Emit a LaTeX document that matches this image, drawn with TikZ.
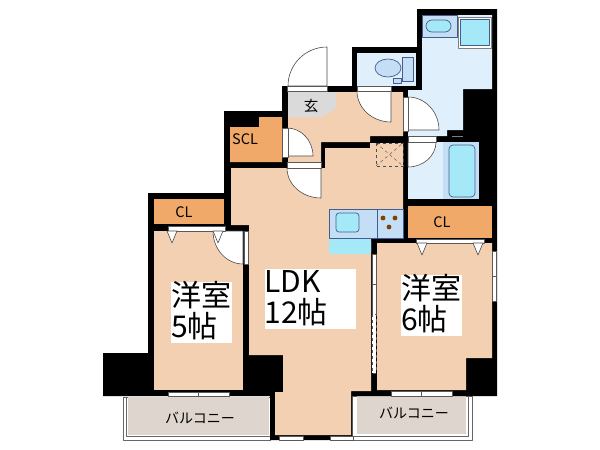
\documentclass[tikz,border=0pt]{standalone}
\usepackage{fontspec}
\setmainfont{Noto Sans CJK JP}
\tikzset{
	wall/.style={fill=black},
	room/.style={fill=#1,draw=none},
	frame/.style={fill=white,draw=gray!70!black,line width=0.5pt},
	doorleaf/.style={fill=white,draw=black!70,line width=0.6pt},
	fixture/.style={fill=#1,draw=black!55!cyan!60!blue,line width=0.7pt},
	roomtext/.style={inner sep=0pt,align=left,anchor=center,font=\fontsize{30}{31}\selectfont},
	smalltext/.style={inner sep=0pt,font=\fontsize{14.5}{14}\selectfont},
	balconytext/.style={inner sep=0pt,font=\fontsize{14}{14}\selectfont}
}
\definecolor{beige}{HTML}{F3D0B2}
\definecolor{closet}{HTML}{F0A968}
\definecolor{wet}{HTML}{DFEFFB}
\definecolor{basin}{HTML}{C4DFF5}
\definecolor{water}{HTML}{A5E8F8}
\definecolor{balcony}{HTML}{DED6CE}
\definecolor{hallgray}{HTML}{DADADA}
\begin{document}
\begin{tikzpicture}[x=1pt,y=-1pt,line join=round]
	\useasboundingbox (0,0) rectangle (600,450);
	% balconies
	\draw[gray!80!black,line width=0.8pt,fill=white] (123,397)--(123,440.5)--(270,440.5)--(270,397)--cycle;
	\draw[gray!80!black,line width=0.6pt] (126,397)--(126,436)--(270,436);
	\fill[balcony] (128,397) rectangle (269,434.5);
	\draw[gray!80!black,line width=0.8pt,fill=white] (352,396)--(352,440.5)--(472,440.5)--(472,396)--cycle;
	\draw[gray!80!black,line width=0.6pt] (352,436)--(468,436)--(468,396);
	\fill[balcony] (357,396) rectangle (466,434);
	% black silhouette
	\fill[wall] (417,9)--(497,9)--(497,396)--(357,396)--(352,396)--(352,440)--(270,440)--(270,396)
		--(103,396)--(103,353)--(148,353)--(148,193)--(224,193)--(224,111)--(282,111)--(282,86)
		--(352,86)--(352,47)--(417,47)--cycle;
	% rooms
	\fill[room=beige] (231,168)--(287,168)--(287,162)--(321,162)--(321,168)--(325,168)--(325,148)--(370,148)
		--(370,143)--(403,143)--(403,238)--(371,238)--(371,391)--(351,391)--(351,435)--(275,435)
		--(275,392)--(283,392)--(283,355)--(249,355)--(249,225)--(231,225)--cycle;
	\fill[room=beige] (288,92)--(403,92)--(403,136)--(370,136)--(370,142)--(321,142)--(321,162)--(288,162)--cycle;
	\fill[room=beige] (154,231) rectangle (243,390);
	\fill[room=beige] (377,243)--(492,243)--(492,358)--(466,358)--(466,390)--(377,390)--cycle;
	\fill[room=hallgray] (288,92)--(336,92)--(336,108)--(322,117)--(288,117)--cycle;
	\fill[room=closet] (230,127)--(259,127)--(259,117)--(282,117)--(282,162)--(230,162)--cycle;
	\fill[room=closet] (154,199) rectangle (224,224);
	\fill[room=closet] (408,206) rectangle (492,238);
	\fill[room=wet] (357,53) rectangle (416,86);
	\fill[room=wet] (422,15)--(492,15)--(492,89)--(463,89)--(463,130)--(447,130)--(447,136)--(408,136)--(408,90)--(422,90)--cycle;
	\fill[room=wet] (408,142) rectangle (443,199);
	% fixtures
	\fill[basin] (443,142) rectangle (479,199);
	\draw[fixture=water,rounded corners=4pt] (449,145) rectangle (475,197);
	\draw[fixture=basin,line width=0.4pt] (422,15) rectangle (457,37);
	\draw[fixture=water,rounded corners=6pt] (426,20) rectangle (451,32);
	\draw[gray,fill=white,line width=0.6pt] (458,17) rectangle (491,48);
	\draw[fixture=water] (460,19) rectangle (489,45);
	\draw[fixture=basin] (402,57) rectangle (413,81);
	\draw[fixture=basin] (393,78) rectangle (401,83);
	\draw[fixture=basin] (388,68) ellipse [x radius=13,y radius=9];
	\draw[fixture=basin,line width=0.5pt] (329,209) rectangle (403,238);
	\draw[black!55!cyan!60!blue,line width=0.5pt] (377,209)--(377,238);
	\draw[fixture=water,rounded corners=3pt] (336,213) rectangle (359,232);
	\foreach \px/\py in {383/218,395/218,389/227}
		\fill[black!50!orange] (\px,\py) circle (2.4);
	\fill[water,rounded corners=2pt] (329,239) rectangle (371,254);
	\draw[dashed,line width=0.6pt,black!70] (376,143) rectangle (403,166);
	\draw[dashed,line width=0.4pt,black!70] (376,143)--(403,166) (376,166)--(403,143);
	\draw[gray,line width=0.8pt] (452,136)--(463,136);
	% door swings
	\draw[doorleaf] (327,86)--(288,86) arc[start angle=180,end angle=270,x radius=39,y radius=39]--cycle;
	\draw[doorleaf] (391,91)--(357,91) arc[start angle=180,end angle=90,x radius=34,y radius=31]--cycle;
	\draw[doorleaf] (408,130)--(408,97) arc[start angle=270,end angle=360,x radius=31,y radius=33]--cycle;
	\draw[doorleaf] (408,142)--(436,142) arc[start angle=0,end angle=90,x radius=28,y radius=25]--cycle;
	\draw[doorleaf] (287,156)--(287,128) arc[start angle=270,end angle=360,x radius=26,y radius=28]--cycle;
	\draw[doorleaf] (321,168)--(287,168) arc[start angle=180,end angle=90,x radius=34,y radius=30]--cycle;
	\draw[doorleaf] (243,231)--(213,231) arc[start angle=180,end angle=90,x radius=30,y radius=33]--cycle;
	% door frames, windows
	\draw[frame] (287,86) rectangle (327,91);
	\draw[frame] (357,86) rectangle (391,91);
	\draw[frame] (403,97) rectangle (408,131);
	\draw[frame] (408,136) rectangle (436,142);
	\draw[frame] (282,128) rectangle (288,157);
	\draw[frame] (287,162) rectangle (321,168);
	\draw[frame] (244,231) rectangle (248,264);
	\draw[frame] (168,226) rectangle (225,231);
	\draw[frame] (416,239) rectangle (484,243);
	\draw[frame] (492.5,251) rectangle (496.5,276);
	\draw[frame] (492.5,276) rectangle (496.5,301);
	\draw[frame] (372,254) rectangle (376,284);
	\draw[frame] (372,284) rectangle (376,314);
	\draw[frame,dashed] (372,314) rectangle (376,373);
	\foreach \wx/\wy/\wm in {168/392/198,391/391.5/421}{
		\draw[frame] (\wx,\wy) rectangle (\wm,396);
		\draw[frame] (\wm,\wy) rectangle (\wm+31,396);
	}
	\draw[frame] (279,436) rectangle (303,440);
	\draw[frame] (330,436) rectangle (353,440);
	% closet door marks
	\foreach \tx/\ty in {172/231,218/231,422/243,478/243}
		\draw[doorleaf] (\tx-5,\ty)--(\tx+5,\ty)--(\tx,\ty+12)--cycle;
	% labels
	\fill[white] (265,269) rectangle (356,329);
	\fill[white] (171,282) rectangle (232,343);
	\fill[white] (401,275) rectangle (462,336);
	\node[roomtext] (ldk) at (296,298) {LDK\\12帖};
	\node[roomtext] (room5) at (201,311) {洋室\\5帖};
	\node[roomtext] (room6) at (431,304) {洋室\\6帖};
	\node[smalltext] (scl) at (245,139) {SCL};
	\node[smalltext] (clleft) at (184,212) {CL};
	\node[smalltext] (clright) at (442,222) {CL};
	\node[smalltext] (genkan) at (311,106) {玄};
	\node[balconytext] (balconyleft) at (200,418) {バルコニー};
	\node[balconytext] (balconyright) at (414,413) {バルコニー};
\end{tikzpicture}
\end{document}
